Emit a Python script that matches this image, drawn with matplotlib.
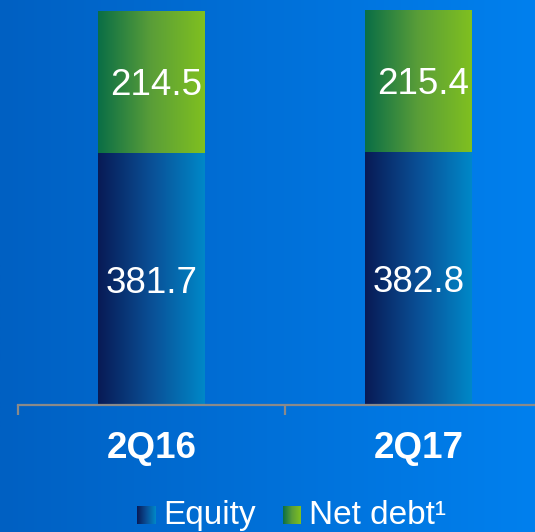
import numpy as np
import matplotlib
matplotlib.use("Agg")
import matplotlib.pyplot as plt
from matplotlib.colors import LinearSegmentedColormap

categories = ["2Q16", "2Q17"]
equity = [381.7, 382.8]
net_debt = [214.5, 215.4]
legend_labels = ["Equity", "Net debt\u00b9"]

W, H = 535, 532
plt.rcParams['font.family'] = ['Liberation Sans', 'DejaVu Sans']
fig = plt.figure(figsize=(W / 100, H / 100), dpi=100)

# background gradient
bg = fig.add_axes([0, 0, 1, 1], zorder=-10)
bg_cmap = LinearSegmentedColormap.from_list("bg", ["#0060C2", "#0080EE"])
bg.imshow(np.linspace(0, 1, 256)[None, :], aspect="auto", cmap=bg_cmap,
          extent=[0, 1, 0, 1])
bg.set_axis_off()

eq_cmap = LinearSegmentedColormap.from_list("eq", ["#081A55", "#0A4F96", "#0088C8"])
nd_cmap = LinearSegmentedColormap.from_list("nd", ["#0A6E46", "#5A9E38", "#80C020"])

ax_left = 18 / W
ax_bottom = (H - 405) / H
ax = fig.add_axes([ax_left, ax_bottom, 534 / W, 405 / H])
ax.patch.set_visible(False)
x = np.arange(len(categories))
bw = 0.4

grad = np.linspace(0, 1, 256)[None, :]
b1 = ax.bar(x, equity, bw, color="none", edgecolor="none")
b2 = ax.bar(x, net_debt, bw, bottom=equity, color="none", edgecolor="none")
for bars, cmap in ((b1, eq_cmap), (b2, nd_cmap)):
    for r in bars:
        x0, y0 = r.get_x(), r.get_y()
        im = ax.imshow(grad, aspect="auto", cmap=cmap,
                       extent=[x0, x0 + r.get_width(), y0, y0 + r.get_height()],
                       zorder=2)
        im.set_clip_path(r)
ax.set_xlim(-0.5, len(categories) - 0.5)
ax.set_ylim(0, 612.7)

for i in range(len(categories)):
    ax.annotate(f"{equity[i]:.1f}", (x[i], equity[i] / 2),
                xytext=(0, -3), textcoords="offset points",
                ha="center", va="center", color="white", fontsize=26.5, zorder=5)
    ax.annotate(f"{net_debt[i]:.1f}", (x[i], equity[i] + net_debt[i] / 2),
                xytext=(3, -3), textcoords="offset points",
                ha="center", va="center", color="white", fontsize=26.5, zorder=5)

for s in ["top", "right", "left"]:
    ax.spines[s].set_visible(False)
ax.spines["bottom"].set_color("#8A8A8A")
ax.spines["bottom"].set_linewidth(1.6)
ax.set_yticks([])
ax.set_xticks(x)
ax.set_xticklabels(categories, fontsize=26.5, fontweight="bold", color="white")
ax.tick_params(axis="x", which="major", length=0, pad=19)
ax.set_xticks(np.arange(-0.5, len(categories) + 0.5, 1.0), minor=True)
ax.tick_params(axis="x", which="minor", length=7.5, width=1.6,
               color="#8A8A8A", direction="out")

# legend
sq = 18
items = [(137, legend_labels[0], eq_cmap), (283, legend_labels[1], nd_cmap)]
for px, lab, cmap in items:
    la = fig.add_axes([px / W, (H - 524) / H, sq / W, sq / H])
    la.imshow(grad, aspect="auto", cmap=cmap, extent=[0, 1, 0, 1])
    la.set_axis_off()
    fig.text((px + sq + 8) / W, (H - 524) / H, lab, ha="left", va="baseline",
             color="white", fontsize=24)

fig.savefig("out.png", dpi=100)
